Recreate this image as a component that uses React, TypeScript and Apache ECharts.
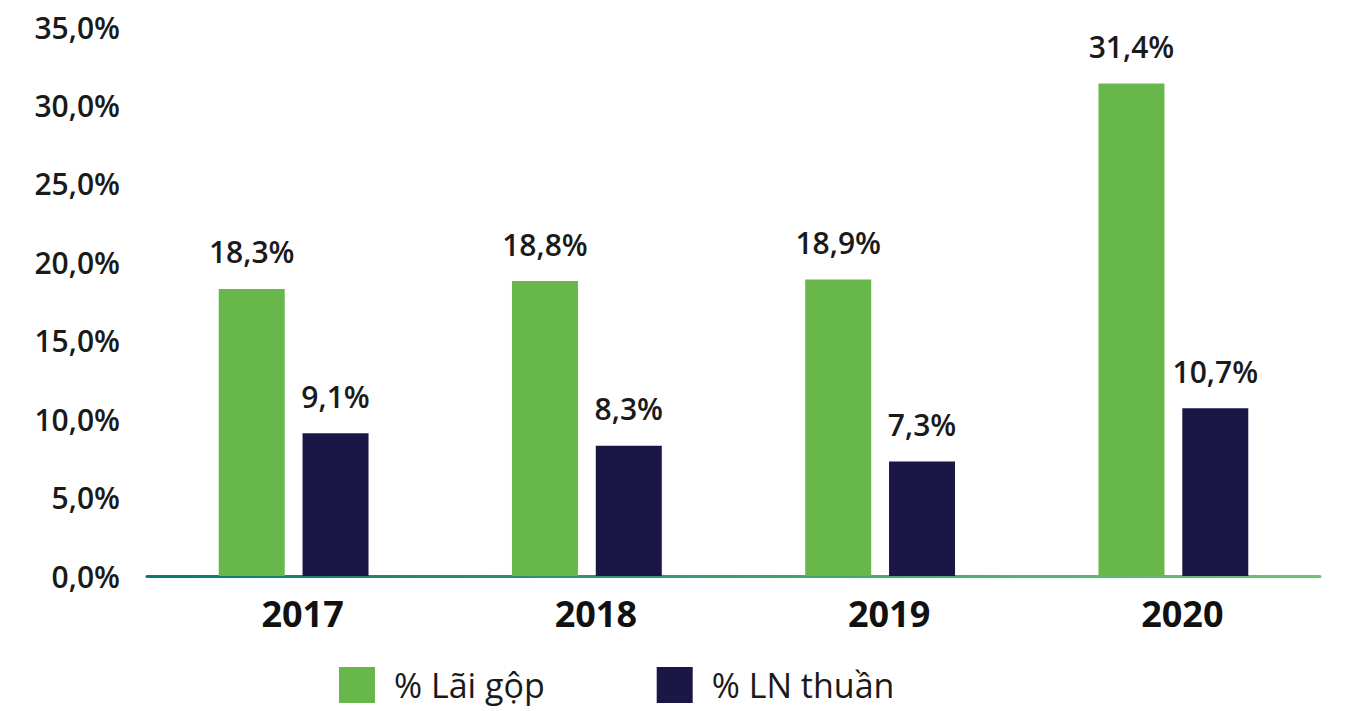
import React, { useEffect, useRef } from "react";
import * as echarts from "echarts";

const categories = ["2017", "2018", "2019", "2020"];
const grossMargin = [18.3, 18.8, 18.9, 31.4];
const netMargin = [9.1, 8.3, 7.3, 10.7];
const seriesNames = ["% Lãi gộp", "% LN thuần"];
const FONT = "'Open Sans', 'Noto Sans', sans-serif";

const fmt = (v: number) => v.toFixed(1).replace(".", ",") + "%";

export default function App() {
  const ref = useRef<HTMLDivElement>(null);
  useEffect(() => {
    if (!ref.current) return;
    const chart = echarts.init(ref.current, undefined, { renderer: "svg" });
    const labelStyle = {
      show: true,
      position: "top" as const,
      distance: 22,
      formatter: (p: any) => fmt(p.value),
      fontFamily: FONT,
      fontWeight: 600,
      fontSize: 30,
      color: "#1a1a1a",
    };
    chart.setOption({
      animation: false,
      backgroundColor: "#fff",
      grid: { left: 147, right: 38, top: 27, bottom: 135, containLabel: false },
      legend: {
        left: 334,
        top: 662,
        itemWidth: 36,
        itemHeight: 36,
        itemGap: 112,
        icon: "rect",
        data: seriesNames,
        textStyle: {
          fontFamily: FONT,
          fontSize: 34,
          lineHeight: 34,
          color: "#1a1a1a",
          padding: [0, 0, 0, 14],
        },
      },
      xAxis: {
        type: "category",
        data: categories,
        axisTick: { show: false },
        axisLine: {
          show: true,
          lineStyle: {
            width: 3,
            color: new echarts.graphic.LinearGradient(
              147,
              0,
              1320,
              0,
              [
                { offset: 0, color: "#0b7a6c" },
                { offset: 1, color: "#6cc475" },
              ],
              true
            ),
          },
        },
        axisLabel: {
          fontFamily: FONT,
          fontWeight: "bold",
          fontSize: 36,
          color: "#111",
          margin: 19,
          padding: [0, 0, 0, 18],
        },
      },
      yAxis: {
        type: "value",
        min: 0,
        max: 35,
        interval: 5,
        splitLine: { show: false },
        axisLine: { show: false },
        axisTick: { show: false },
        axisLabel: {
          formatter: (v: number) => fmt(v),
          fontFamily: FONT,
          fontWeight: 600,
          fontSize: 30,
          color: "#1a1a1a",
          margin: 27,
        },
      },
      series: [
        {
          name: seriesNames[0],
          type: "bar",
          data: grossMargin,
          barWidth: 66,
          barGap: "27%",
          itemStyle: { color: "#68b74a" },
          label: labelStyle,
        },
        {
          name: seriesNames[1],
          type: "bar",
          data: netMargin,
          barWidth: 66,
          itemStyle: { color: "#1a1746" },
          label: labelStyle,
        },
      ],
    });
    return () => chart.dispose();
  }, []);
  return (
    <div
      ref={ref}
      style={{ position: "absolute", left: 0, top: 0, width: 1358, height: 711 }}
    />
  );
}
